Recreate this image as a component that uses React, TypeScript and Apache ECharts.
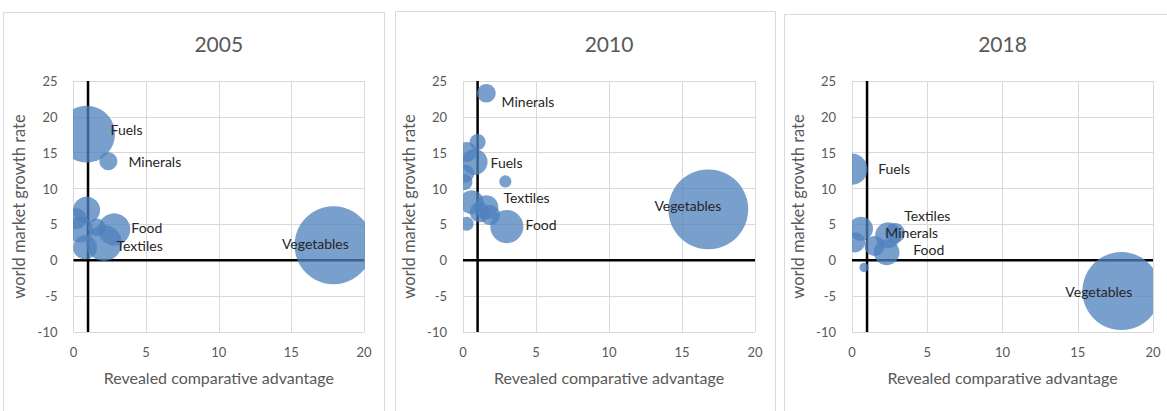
import React, { useEffect, useRef } from "react";
import * as echarts from "echarts";

const YEARS = ["2005", "2010", "2018"];
const X_MIN = 0;
const X_MAX = 20;
const X_STEP = 5;
const Y_MIN = -10;
const Y_MAX = 25;
const Y_STEP = 5;
const CROSS_X = 1; // vertical axis crosses at RCA = 1
const CROSS_Y = 0; // horizontal axis crosses at growth = 0
const X_NAME = "Revealed comparative advantage";
const Y_NAME = "world market growth rate";

// bubbles: [RCA, world market growth rate, bubble size]
const bubbles2005: number[][] = [
  [0.9, 17.6, 53],
  [2.4, 13.8, 5.3],
  [0.9, 7.0, 12],
  [0.45, 4.3, 11],
  [0.8, 1.8, 9.5],
  [0.2, 5.8, 7],
  [1.6, 4.6, 5],
  [2.8, 4.3, 17],
  [2.1, 2.4, 21],
  [17.9, 2.1, 100],
];
const bubbles2010: number[][] = [
  [1.6, 23.3, 5.7],
  [1.0, 16.5, 4.2],
  [0.8, 13.7, 11],
  [0.25, 15.1, 6.6],
  [0.15, 12.1, 5.3],
  [0.1, 10.9, 4.2],
  [2.9, 11.0, 2.4],
  [0.6, 8.1, 9.5],
  [1.15, 6.7, 6.6],
  [1.6, 7.4, 9.5],
  [1.85, 6.3, 6.6],
  [0.25, 5.1, 3.2],
  [3.0, 4.7, 18],
  [16.8, 7.1, 105],
];
const bubbles2018: number[][] = [
  [0.0, 12.7, 16],
  [0.6, 4.4, 9.5],
  [0.2, 2.5, 6.6],
  [1.5, 2.0, 6.6],
  [2.4, 3.5, 11],
  [2.3, 1.1, 11],
  [2.85, 3.8, 6.6],
  [0.8, -1.0, 1.4],
  [17.9, -4.3, 100],
];

// data labels: [name, x, y] (label centre in data units)
const labels2005: [string, number, number][] = [
  ["Fuels", 3.65, 18.3],
  ["Minerals", 5.6, 13.8],
  ["Food", 5.05, 4.6],
  ["Textiles", 4.55, 2.1],
  ["Vegetables", 16.65, 2.4],
];
const labels2010: [string, number, number][] = [
  ["Minerals", 4.45, 22.2],
  ["Fuels", 2.98, 13.7],
  ["Textiles", 4.35, 8.8],
  ["Food", 5.35, 5.0],
  ["Vegetables", 15.4, 7.7],
];
const labels2018: [string, number, number][] = [
  ["Fuels", 2.8, 12.8],
  ["Textiles", 5.0, 6.3],
  ["Minerals", 3.97, 3.85],
  ["Food", 5.1, 1.5],
  ["Vegetables", 16.4, -4.4],
];

const BUBBLES = [bubbles2005, bubbles2010, bubbles2018];
const LABELS = [labels2005, labels2010, labels2018];

const FONT = "Lato, 'Open Sans', sans-serif";
const GRID_LEFT = [73.5, 463, 852];
const GRID_WIDTH = [290.5, 292, 301];
const PANEL_X = [3.5, 395.5, 784.5];
const PANEL_W = [381, 380, 400];
const PANEL_Y = [12.5, 11.5, 14.5];
const BUBBLE_K = 3.9;
const FILL = "rgba(79,129,189,0.76)";

export default function App() {
  const ref = useRef<HTMLDivElement>(null);
  useEffect(() => {
    if (!ref.current) return;
    const chart = echarts.init(ref.current, null, { renderer: "svg" });
    const grids: any[] = [];
    const xAxes: any[] = [];
    const yAxes: any[] = [];
    const series: any[] = [];
    const graphics: any[] = [];
    YEARS.forEach((year, i) => {
      grids.push({ left: GRID_LEFT[i], top: 81, width: GRID_WIDTH[i], height: 251 });
      xAxes.push({
        gridIndex: i,
        type: "value",
        min: X_MIN,
        max: X_MAX,
        interval: X_STEP,
        axisLine: { show: false },
        axisTick: { show: false },
        splitLine: { show: true, lineStyle: { color: "#d9d9d9", width: 1 } },
        axisLabel: { color: "#595959", fontSize: 13, fontFamily: FONT, margin: 13 },
        name: X_NAME,
        nameLocation: "middle",
        nameGap: 37,
        nameTextStyle: { color: "#595959", fontSize: 16, fontFamily: FONT },
      });
      yAxes.push({
        gridIndex: i,
        type: "value",
        min: Y_MIN,
        max: Y_MAX,
        interval: Y_STEP,
        axisLine: { show: false },
        axisTick: { show: false },
        splitLine: { show: true, lineStyle: { color: "#d9d9d9", width: 1 } },
        axisLabel: { color: "#595959", fontSize: 13, fontFamily: FONT, margin: 16 },
        name: Y_NAME,
        nameLocation: "middle",
        nameGap: 46,
        nameTextStyle: { color: "#595959", fontSize: 16.5, fontFamily: FONT },
      });
      series.push({
        type: "line",
        xAxisIndex: i,
        yAxisIndex: i,
        data: [
          [CROSS_X, Y_MIN],
          [CROSS_X, Y_MAX],
        ],
        symbol: "none",
        silent: true,
        lineStyle: { color: "#000", width: 2.5 },
        z: 2,
      });
      series.push({
        type: "line",
        xAxisIndex: i,
        yAxisIndex: i,
        data: [
          [X_MIN, CROSS_Y],
          [X_MAX, CROSS_Y],
        ],
        symbol: "none",
        silent: true,
        lineStyle: { color: "#000", width: 2.5 },
        z: 2,
      });
      series.push({
        type: "custom",
        xAxisIndex: i,
        yAxisIndex: i,
        clip: true,
        z: 3,
        data: BUBBLES[i],
        encode: { x: 0, y: 1 },
        renderItem: (params: any, api: any) => {
          const c = api.coord([api.value(0), api.value(1)]);
          const r = BUBBLE_K * Math.sqrt(api.value(2));
          return { type: "circle", shape: { cx: c[0], cy: c[1], r }, style: { fill: FILL } };
        },
      });
      const labs = LABELS[i];
      series.push({
        type: "custom",
        xAxisIndex: i,
        yAxisIndex: i,
        clip: false,
        z: 5,
        silent: true,
        data: labs.map((l) => [l[1], l[2]]),
        encode: { x: 0, y: 1 },
        renderItem: (params: any, api: any) => {
          const c = api.coord([api.value(0), api.value(1)]);
          return {
            type: "text",
            x: c[0],
            y: c[1],
            style: {
              text: labs[params.dataIndex][0],
              fill: "#262626",
              fontSize: 14,
              lineHeight: 12,
              fontFamily: FONT,
              align: "center",
              verticalAlign: "middle",
            },
          };
        },
      });
      graphics.push({
        type: "rect",
        shape: { x: PANEL_X[i], y: PANEL_Y[i], width: PANEL_W[i], height: 420 },
        style: { fill: "none", stroke: "#d9d9d9", lineWidth: 1 },
        silent: true,
        z: 0,
      });
      graphics.push({
        type: "text",
        x: GRID_LEFT[i] + GRID_WIDTH[i] / 2,
        y: 43,
        style: {
          text: year,
          fill: "#595959",
          fontSize: 21,
          fontFamily: FONT,
          align: "center",
          verticalAlign: "middle",
        },
        silent: true,
      });
    });
    chart.setOption({
      animation: false,
      backgroundColor: "#fff",
      grid: grids,
      xAxis: xAxes,
      yAxis: yAxes,
      series,
      graphic: graphics,
    });
    return () => chart.dispose();
  }, []);
  return (
    <div
      ref={ref}
      style={{ position: "absolute", left: 0, top: 0, width: 1167, height: 411 }}
    />
  );
}
